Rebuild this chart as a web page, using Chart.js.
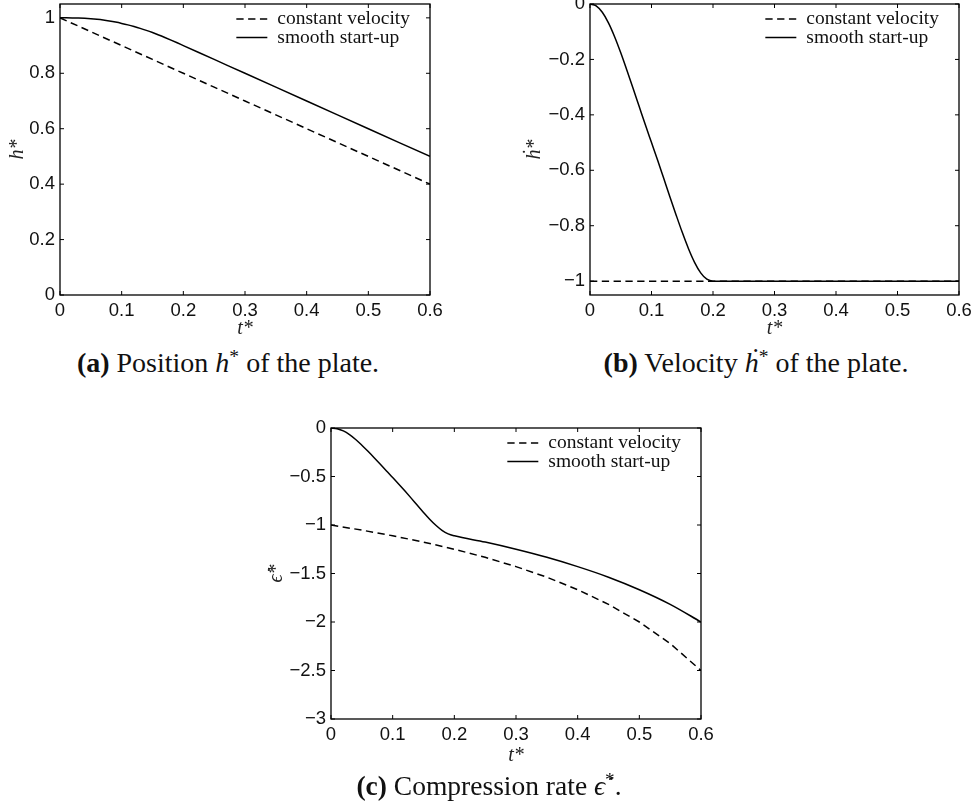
<!DOCTYPE html>
<html>
<head>
<meta charset="utf-8">
<script src="https://cdn.jsdelivr.net/npm/chart.js@4.4.0/dist/chart.umd.min.js"></script>
<style>
  body { margin: 0; background: #fff; width: 978px; height: 805px; position: relative; overflow: hidden; }
  .panel { position: absolute; }
  .cap { position: absolute; font-family: "Liberation Serif", "Times New Roman", serif; font-size: 28px; color: #111;
         white-space: nowrap; transform: translate(-50%, -50%); line-height: 1; }
  .cap .st { font-size: 0.7em; vertical-align: 0.45em; }
</style>
</head>
<body>
<div class="panel" style="left:0;top:0;"><canvas id="chartA" width="489" height="345"></canvas></div>
<div class="panel" style="left:489px;top:0;"><canvas id="chartB" width="489" height="345"></canvas></div>
<div class="panel" style="left:250px;top:400px;"><canvas id="chartC" width="489" height="380"></canvas></div>

<div class="cap" style="left:228px;top:362px;"><b>(a)</b> Position <i>h</i><span class="st">*</span> of the plate.</div>
<div class="cap" style="left:756px;top:362px;"><b>(b)</b> Velocity <i>ḣ</i><span class="st">*</span> of the plate.</div>
<div class="cap" style="left:489px;top:785px;font-size:27.5px;"><b>(c)</b> Compression rate <i>ϵ̇</i><span class="st">*</span>.</div>

<script>
// ---- series names and tick values ----
const seriesNames = ['constant velocity', 'smooth start-up'];
const xTicks  = [0, 0.1, 0.2, 0.3, 0.4, 0.5, 0.6];
const yTicksA = [0, 0.2, 0.4, 0.6, 0.8, 1];
const yTicksB = [0, -0.2, -0.4, -0.6, -0.8, -1];
const yTicksC = [0, -0.5, -1, -1.5, -2, -2.5, -3];

// ---- constant velocity ----
const tConst     = [0, 0.05, 0.1, 0.15, 0.2, 0.25, 0.3, 0.35, 0.4, 0.45, 0.5, 0.55, 0.6];
const hConst     = [1, 0.95, 0.9, 0.85, 0.8, 0.75, 0.7, 0.65, 0.6, 0.55, 0.5, 0.45, 0.4];
const hDotConst  = [-1, -1, -1, -1, -1, -1, -1, -1, -1, -1, -1, -1, -1];
const epsConst   = [-1, -1.053, -1.111, -1.176, -1.25, -1.333, -1.429, -1.538, -1.667, -1.818, -2, -2.222, -2.5];

// ---- smooth start-up ----
const tSmooth    = [0, 0.01, 0.02, 0.03, 0.04, 0.05, 0.06, 0.07, 0.08, 0.09, 0.1,
                    0.11, 0.12, 0.13, 0.14, 0.15, 0.16, 0.17, 0.18, 0.19, 0.2,
                    0.25, 0.3, 0.35, 0.4, 0.45, 0.5, 0.55, 0.6];
const hSmooth    = [1, 1, 0.9998, 0.9993, 0.9984, 0.9969, 0.9948, 0.9921, 0.9887, 0.9847, 0.98,
                    0.9747, 0.9687, 0.9621, 0.9548, 0.9469, 0.9384, 0.9293, 0.9198, 0.91, 0.9,
                    0.85, 0.8, 0.75, 0.7, 0.65, 0.6, 0.55, 0.5];
const hDotSmooth = [0, -0.007, -0.03, -0.068, -0.118, -0.176, -0.239, -0.304, -0.37, -0.436, -0.5,
                    -0.564, -0.63, -0.696, -0.761, -0.824, -0.882, -0.932, -0.97, -0.993, -1,
                    -1, -1, -1, -1, -1, -1, -1, -1];
const epsSmooth  = [0, -0.007, -0.03, -0.068, -0.118, -0.177, -0.24, -0.306, -0.374, -0.443, -0.51,
                    -0.579, -0.65, -0.723, -0.797, -0.87, -0.94, -1.003, -1.055, -1.091, -1.111,
                    -1.176, -1.25, -1.333, -1.429, -1.538, -1.667, -1.818, -2];

const INK = '#000';
const tickFont  = { family: '"Liberation Sans", Arial, sans-serif', size: 18.5 };
const titleFont = { family: '"Liberation Serif", "Times New Roman", serif', size: 20, style: 'italic' };

function pts(xs, ys) { return xs.map((x, i) => ({ x: x, y: ys[i] })); }
function fmt(v) { return String(+Number(v).toFixed(2)).replace('-', '\u2212'); }

// Axes box with inward tick marks on all four sides
const frameTicks = {
  id: 'frameTicks',
  afterDraw(chart) {
    const { ctx, chartArea: a, scales } = chart;
    const x = scales.x, y = scales.y, len = 4;
    ctx.save();
    ctx.strokeStyle = INK;
    ctx.lineWidth = 1.3;
    ctx.strokeRect(a.left, a.top, a.right - a.left, a.bottom - a.top);
    ctx.lineWidth = 1;
    ctx.beginPath();
    x.ticks.forEach((t, i) => {
      const px = x.getPixelForTick(i);
      ctx.moveTo(px, a.bottom); ctx.lineTo(px, a.bottom - len);
      ctx.moveTo(px, a.top);    ctx.lineTo(px, a.top + len);
    });
    y.ticks.forEach((t, i) => {
      const py = y.getPixelForTick(i);
      ctx.moveTo(a.left, py);  ctx.lineTo(a.left + len, py);
      ctx.moveTo(a.right, py); ctx.lineTo(a.right - len, py);
    });
    ctx.stroke();
    ctx.restore();
  }
};

// Legend drawn inside the top-right corner of the plotting area
const insideLegend = {
  id: 'insideLegend',
  afterDraw(chart) {
    const { ctx, chartArea: a } = chart;
    const ds = chart.data.datasets;
    ctx.save();
    ctx.font = '19.5px "Liberation Serif", "Times New Roman", serif';
    const tw = Math.max(...ds.map(d => ctx.measureText(d.label).width));
    const textX = a.right - 20 - tw;
    const x1 = textX - 10, x0 = x1 - 31;
    ds.forEach((d, i) => {
      const ly = a.top + 15 + i * 18.5;
      ctx.strokeStyle = d.borderColor;
      ctx.lineWidth = d.borderWidth;
      ctx.setLineDash(d.borderDash || []);
      ctx.beginPath(); ctx.moveTo(x0, ly); ctx.lineTo(x1, ly); ctx.stroke();
      ctx.setLineDash([]);
      ctx.fillStyle = '#111';
      ctx.textBaseline = 'alphabetic';
      ctx.fillText(d.label, textX, ly + 5);
    });
    ctx.restore();
  }
};

function makeChart(id, o) {
  return new Chart(document.getElementById(id), {
    type: 'line',
    data: {
      datasets: [
        { label: seriesNames[0], data: pts(tConst, o.constY), borderColor: INK, borderWidth: 1.5,
          borderDash: [7.3, 4.5], pointRadius: 0, fill: false, order: 1 },
        { label: seriesNames[1], data: pts(tSmooth, o.smoothY), borderColor: INK, borderWidth: 1.5,
          pointRadius: 0, fill: false, cubicInterpolationMode: 'monotone', order: 0 }
      ]
    },
    options: {
      responsive: false,
      animation: false,
      events: [],
      layout: { padding: { left: 0, top: o.top, right: o.right, bottom: 0 } },
      plugins: { legend: { display: false }, tooltip: { enabled: false } },
      scales: {
        x: {
          type: 'linear', min: 0, max: 0.6,
          afterBuildTicks: s => { s.ticks = xTicks.map(v => ({ value: v })); },
          afterFit: s => { s.height = o.xh; s.paddingLeft = 0; s.paddingRight = 0; },
          grid: { display: false, drawTicks: false },
          border: { display: false },
          ticks: { padding: 5, font: tickFont, color: '#111', maxRotation: 0, autoSkip: false, callback: fmt },
          title: { display: true, text: 't*', font: titleFont, color: '#222', padding: { top: 0, bottom: o.xTitlePad } }
        },
        y: {
          type: 'linear', min: o.yMin, max: o.yMax,
          afterBuildTicks: s => { s.ticks = o.yTicks.map(v => ({ value: v })); },
          afterFit: s => { s.width = o.yw; s.paddingTop = 0; s.paddingBottom = 0; },
          grid: { display: false, drawTicks: false },
          border: { display: false },
          ticks: { padding: 5, font: tickFont, color: '#111', autoSkip: false, callback: fmt },
          title: { display: true, text: o.yTitle, font: titleFont, color: '#222', padding: { top: o.yTitlePad, bottom: 0 } }
        }
      }
    },
    plugins: [frameTicks, insideLegend]
  });
}

makeChart('chartA', { constY: hConst, smoothY: hSmooth, yTicks: yTicksA, yMin: 0, yMax: 1.05,
  yTitle: 'h*', top: 4, right: 59, xh: 50, yw: 60, xTitlePad: 4, yTitlePad: 6 });
makeChart('chartB', { constY: hDotConst, smoothY: hDotSmooth, yTicks: yTicksB, yMin: -1.05, yMax: 0,
  yTitle: 'ḣ*', top: 4, right: 19, xh: 50, yw: 101, xTitlePad: 4, yTitlePad: 34 });
makeChart('chartC', { constY: epsConst, smoothY: epsSmooth, yTicks: yTicksC, yMin: -3, yMax: 0,
  yTitle: 'ϵ̇*', top: 28, right: 38, xh: 61, yw: 81, xTitlePad: 12, yTitlePad: 15 });
</script>
</body>
</html>
